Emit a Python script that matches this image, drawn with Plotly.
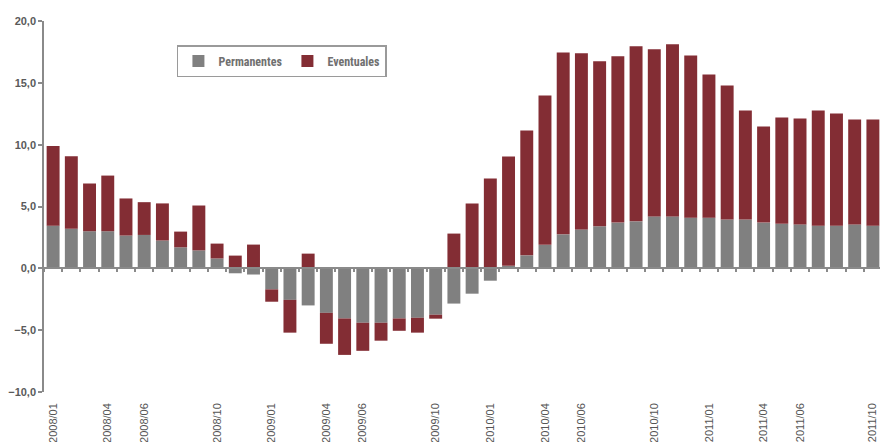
import plotly.graph_objects as go

months = [
    "2008/01", "2008/02", "2008/03", "2008/04", "2008/05", "2008/06", "2008/07", "2008/08",
    "2008/09", "2008/10", "2008/11", "2008/12",
    "2009/01", "2009/02", "2009/03", "2009/04", "2009/05", "2009/06", "2009/07", "2009/08",
    "2009/09", "2009/10", "2009/11", "2009/12",
    "2010/01", "2010/02", "2010/03", "2010/04", "2010/05", "2010/06", "2010/07", "2010/08",
    "2010/09", "2010/10", "2010/11", "2010/12",
    "2011/01", "2011/02", "2011/03", "2011/04", "2011/05", "2011/06", "2011/07", "2011/08",
    "2011/09", "2011/10",
]

permanentes = [
    3.45, 3.2, 3.0, 3.0, 2.65, 2.7, 2.25, 1.7, 1.45, 0.8, -0.4, -0.5,
    -1.7, -2.55, -3.0, -3.6, -4.05, -4.4, -4.4, -4.05, -4.0, -3.75, -2.85, -2.05,
    -1.0, 0.2, 1.05, 1.9, 2.75, 3.15, 3.4, 3.7, 3.8, 4.2, 4.2, 4.1,
    4.1, 3.95, 3.95, 3.7, 3.6, 3.55, 3.45, 3.45, 3.55, 3.45,
]

eventuales = [
    6.45, 5.87, 3.86, 4.5, 3.0, 2.65, 3.0, 1.27, 3.63, 1.2, 1.03, 1.92,
    -1.0, -2.65, 1.19, -2.5, -2.95, -2.27, -1.45, -1.0, -1.2, -0.32, 2.81, 5.24,
    7.27, 8.84, 10.1, 12.08, 14.71, 14.24, 13.34, 13.44, 14.15, 13.51, 13.91, 13.12,
    11.58, 10.84, 8.82, 7.77, 8.6, 8.57, 9.32, 9.08, 8.49, 8.59,
]

tick_labels = [
    "2008/01", "2008/04", "2008/06", "2008/10", "2009/01", "2009/04", "2009/06", "2009/10",
    "2010/01", "2010/04", "2010/06", "2010/10", "2011/01", "2011/04", "2011/06", "2011/10",
]

GRAY = "#808080"
RED = "#832D34"
AXIS = "#8a8a8a"

fig = go.Figure()
fig.add_trace(go.Bar(x=months, y=permanentes, name="Permanentes", marker_color=GRAY,
                     marker_line_width=0))
fig.add_trace(go.Bar(x=months, y=eventuales, name="Eventuales", marker_color=RED,
                     marker_line_width=0))
# helper trace for the zero-line axis with boundary ticks
fig.add_trace(go.Scatter(x=months, y=[None] * len(months), xaxis="x2", mode="lines",
                         showlegend=False, hoverinfo="skip"))

xr = [-0.5, 45.39]
fig.update_layout(
    width=880, height=442,
    margin=dict(l=44, r=0, t=21, b=50, autoexpand=False),
    barmode="relative",
    bargap=0.29,
    plot_bgcolor="white",
    paper_bgcolor="white",
    separators=",.",
    font=dict(family="Arial, Liberation Sans, sans-serif", color="#555"),
    xaxis=dict(
        type="category", categoryorder="array", categoryarray=months,
        range=xr, tickmode="array", tickvals=tick_labels, ticktext=tick_labels,
        tickangle=-90, showline=False, showgrid=False, zeroline=False,
        ticks="", ticklabelstandoff=8,
        tickfont=dict(size=11, color="#555", family="Arial, Liberation Sans, sans-serif"),
    ),
    xaxis2=dict(
        type="category", categoryorder="array", categoryarray=months,
        overlaying="x", anchor="free", position=1 / 3, side="bottom",
        range=xr, tickmode="linear", dtick=1, tickson="boundaries",
        ticks="outside", ticklen=3, tickwidth=1.5, tickcolor=AXIS,
        showline=True, linecolor=AXIS, linewidth=1.5,
        showticklabels=False, showgrid=False, zeroline=False,
    ),
    yaxis=dict(
        range=[-10, 20], tickmode="linear", tick0=-10, dtick=5, tickformat=".1f",
        showline=True, linecolor=AXIS, linewidth=1.5,
        ticks="outside", ticklen=4, tickwidth=1.5, tickcolor=AXIS,
        showgrid=False, zeroline=False,
        tickfont=dict(size=11, color="#5a5a5a", family="Arial, Liberation Sans, sans-serif",
                      weight="bold"),
    ),
    legend=dict(
        orientation="h", x=0.159, y=0.935, xanchor="left", yanchor="top",
        bordercolor="#9a9a9a", borderwidth=1.5, bgcolor="white",
        font=dict(size=12, color="#707070",
                  family="Liberation Sans Narrow, Arial Narrow, Roboto Condensed, Arial, sans-serif",
                  weight="bold"),
        itemwidth=30, tracegroupgap=0,
    ),
)

fig.write_html("out.html", config={"displayModeBar": False},
               post_script="document.body.style.margin='0';")
